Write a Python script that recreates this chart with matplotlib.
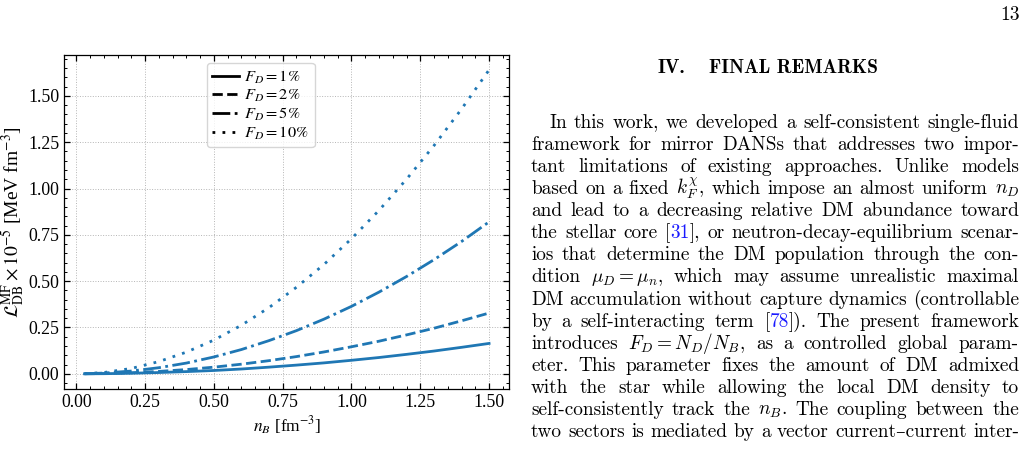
import re
import matplotlib
matplotlib.use("Agg")
import matplotlib.pyplot as plt
from matplotlib.lines import Line2D
from matplotlib.ticker import MultipleLocator, FormatStrFormatter

W, H = 1029, 455

# ---------------- data ----------------
nB = [0.03, 0.10, 0.20, 0.30, 0.40, 0.50, 0.60, 0.70, 0.80, 0.90,
      1.00, 1.10, 1.20, 1.30, 1.40, 1.50]
L_F1 = [0.0001, 0.0007, 0.003, 0.007, 0.012, 0.018, 0.026, 0.036, 0.047,
        0.059, 0.073, 0.088, 0.105, 0.123, 0.143, 0.164]
L_F2 = [0.0002, 0.0015, 0.006, 0.013, 0.023, 0.036, 0.052, 0.071, 0.093,
        0.118, 0.146, 0.176, 0.210, 0.246, 0.286, 0.328]
L_F5 = [0.0005, 0.004, 0.015, 0.033, 0.058, 0.091, 0.131, 0.179, 0.233,
        0.295, 0.364, 0.441, 0.525, 0.616, 0.714, 0.820]
L_F10 = [0.001, 0.007, 0.029, 0.066, 0.117, 0.182, 0.262, 0.357, 0.467,
         0.590, 0.729, 0.882, 1.050, 1.232, 1.429, 1.640]
series_labels = [r'$F_D=1\%$', r'$F_D=2\%$', r'$F_D=5\%$', r'$F_D=10\%$']
series_styles = ['-', '--', '-.', (0, (1, 2.6))]
series_values = [L_F1, L_F2, L_F5, L_F10]

x_label = r'$n_B$ [fm$^{-3}$]'
y_label = r'$\mathcal{L}_{\rm DB}^{\rm MF}\times10^{-5}$ [MeV fm$^{-3}$]'

page_number = '13'
heading_num = 'IV.'
heading_txt = 'FINAL REMARKS'
body_lines = [
    "In this work, we developed a self-consistent single-fluid",
    "framework for mirror DANSs that addresses two impor-",
    "tant limitations of existing approaches. Unlike models",
    r"based on a fixed $k_F^{\chi}$, which impose an almost uniform $n_D$",
    "and lead to a decreasing relative DM abundance toward",
    "the stellar core [31], or neutron-decay-equilibrium scenar-",
    "ios that determine the DM population through the con-",
    r"dition $\mu_D=\mu_n$, which may assume unrealistic maximal",
    "DM accumulation without capture dynamics (controllable",
    "by a self-interacting term [78]). The present framework",
    r"introduces $F_D=N_D/N_B$, as a controlled global param-",
    "eter. This parameter fixes the amount of DM admixed",
    "with the star while allowing the local DM density to",
    r"self-consistently track the $n_B$. The coupling between the",
    "two sectors is mediated by a vector current\u2013current inter-",
]

# ---------------- figure ----------------
plt.rcParams['font.family'] = ['Liberation Serif', 'DejaVu Serif']
plt.rcParams['mathtext.fontset'] = 'stix'

fig = plt.figure(figsize=(W / 100, H / 100), dpi=100)
ax = fig.add_axes([64.3 / W, 1 - 389 / H, (509.3 - 64.3) / W, (389 - 54.7) / H])

line_color = '#1f77b4'
for vals, ls in zip(series_values, series_styles):
    ax.plot(nB, vals, color=line_color, lw=2.0, ls=ls)

ax.xaxis.set_major_locator(MultipleLocator(0.25))
ax.xaxis.set_minor_locator(MultipleLocator(0.05))
ax.yaxis.set_major_locator(MultipleLocator(0.25))
ax.yaxis.set_minor_locator(MultipleLocator(0.05))
ax.xaxis.set_major_formatter(FormatStrFormatter('%.2f'))
ax.yaxis.set_major_formatter(FormatStrFormatter('%.2f'))
ax.tick_params(which='both', direction='in', top=True, right=True,
               labelsize=12.8, colors='black')
ax.tick_params(which='major', length=4, width=0.9)
ax.tick_params(which='minor', length=2, width=0.7)
for sp in ax.spines.values():
    sp.set_linewidth(0.9)
ax.grid(True, which='major', ls=':', color='#b5b5b5', lw=0.7)
ax.set_xlabel(x_label, fontsize=12.5, labelpad=3)
ax.set_ylabel(y_label, fontsize=14, labelpad=1)

handles = [Line2D([], [], color='black', lw=2.0, ls=ls) for ls in series_styles]
ax.legend(handles, series_labels, loc='upper left',
          bbox_to_anchor=(0.32, 0.976), borderaxespad=0, fontsize=11.8,
          handlelength=1.6, handletextpad=0.35, labelspacing=0.12,
          borderpad=0.35, frameon=True, fancybox=True,
          edgecolor='#cccccc', framealpha=0.8)

# ---------------- text column ----------------
renderer = fig.canvas.get_renderer()
body_fs = 13.9
body_family = ['cmr10', 'DejaVu Serif']


def fx(px):
    return px / W


def fy(py):
    return 1 - py / H


def split_tokens(s):
    toks, cur, math = [], '', False
    for ch in s:
        if ch == '$':
            math = not math
            cur += ch
        elif ch == ' ' and not math:
            if cur:
                toks.append(cur)
            cur = ''
        else:
            cur += ch
    if cur:
        toks.append(cur)
    return toks


def token_pieces(tok):
    m = re.search(r'\[(\d+)\]', tok)
    if not m:
        return [(tok, 'black')]
    pieces = []
    pre = tok[:m.start()] + '['
    pieces.append((pre, 'black'))
    pieces.append((m.group(1), '#1a1aff'))
    pieces.append((']' + tok[m.end():], 'black'))
    return pieces


def make_text(s, color, fs=body_fs, family=None):
    return fig.text(0, 0, s, fontsize=fs, family=family or body_family,
                    math_fontfamily='cm', color=color, ha='left',
                    va='baseline')


x_left, x_right = 531.0, 1019.0
base0, step = 128.0, 22.07
for i, line in enumerate(body_lines):
    y = base0 + i * step
    x0 = x_left + (18 if i == 0 else 0)
    toks = split_tokens(line)
    tok_objs = []
    widths = []
    for tok in toks:
        objs = []
        w = 0.0
        for s, c in token_pieces(tok):
            t = make_text(s, c)
            pw = t.get_window_extent(renderer).width
            objs.append((t, pw))
            w += pw
        tok_objs.append(objs)
        widths.append(w)
    gap = (x_right - x0 - sum(widths)) / max(len(toks) - 1, 1)
    x = x0
    for objs, w in zip(tok_objs, widths):
        xx = x
        for t, pw in objs:
            t.set_position((fx(xx), fy(y)))
            xx += pw
        x += w + gap

fig.text(fx(657), fy(73), heading_num, fontsize=14, family=['cmb10', 'DejaVu Serif'],
         ha='left', va='baseline')
fig.text(fx(709), fy(73), heading_txt, fontsize=14, family=['cmb10', 'DejaVu Serif'],
         ha='left', va='baseline')
fig.text(fx(1020), fy(20), page_number, fontsize=14, family=body_family,
         ha='right', va='baseline')

fig.savefig('out.png', dpi=100)
